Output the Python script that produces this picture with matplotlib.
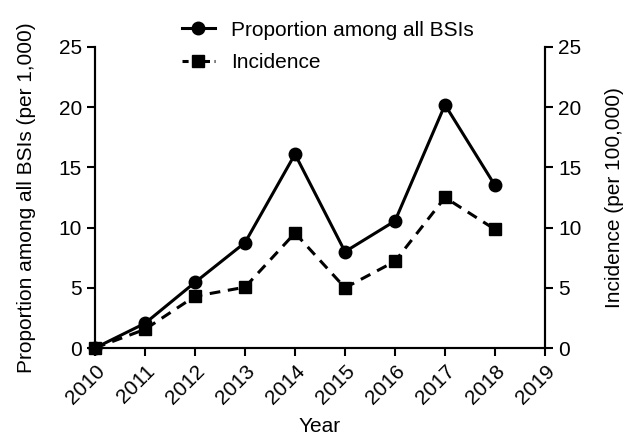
import matplotlib
matplotlib.use("Agg")
import matplotlib.pyplot as plt
from matplotlib.lines import Line2D

plt.rcParams['font.family'] = ['Liberation Sans', 'DejaVu Sans']

years = [2010, 2011, 2012, 2013, 2014, 2015, 2016, 2017, 2018]
proportion = [0.0, 2.05, 5.45, 8.75, 16.1, 8.0, 10.55, 20.2, 13.5]
incidence = [0.0, 1.55, 4.3, 5.05, 9.55, 5.0, 7.2, 12.5, 9.85]
xticks = list(range(2010, 2020))
yticks = [0, 5, 10, 15, 20, 25]

fig = plt.figure(figsize=(6.34, 4.36), dpi=100)
ax = fig.add_axes([95/634, 1-348/436, 450/634, 301/436])
ax2 = ax.twinx()

ax.plot(years, proportion, '-', color='black', lw=2.2, marker='o', ms=9, clip_on=False, zorder=3)
ax2.plot(years, incidence, '--', color='black', lw=2.2, marker='s', ms=9, clip_on=False, zorder=3,
         dashes=(3.5, 2.5))

for a in (ax, ax2):
    a.set_xlim(2010, 2019)
    a.set_ylim(0, 25)
    a.set_yticks(yticks)
    a.spines['top'].set_visible(False)
    for s in a.spines.values():
        s.set_linewidth(1.5)
    a.tick_params(direction='out', width=1.5, length=6, labelsize=15)

ax.set_xticks(xticks)
ax.set_xticklabels([str(x) for x in xticks], rotation=45, ha='right', rotation_mode='anchor')
ax.set_xlabel('Year', fontsize=15, labelpad=7)
ax.set_ylabel('Proportion among all BSIs (per 1,000)', fontsize=15, labelpad=16)
ax2.set_ylabel('Incidence (per 100,000)', fontsize=15, labelpad=17)

handles = [
    Line2D([], [], color='black', lw=2.2, marker='o', ms=9),
    Line2D([], [], color='black', lw=2.2, ls='--', marker='s', ms=9, dashes=(2, 1.5)),
]
fig.legend(handles, ['Proportion among all BSIs', 'Incidence'], loc='upper left',
           bbox_to_anchor=(163/634, 1-2/436), frameon=False, fontsize=15,
           handlelength=1.6, handletextpad=0.75, labelspacing=0.65)

fig.savefig('out.png', dpi=100)
